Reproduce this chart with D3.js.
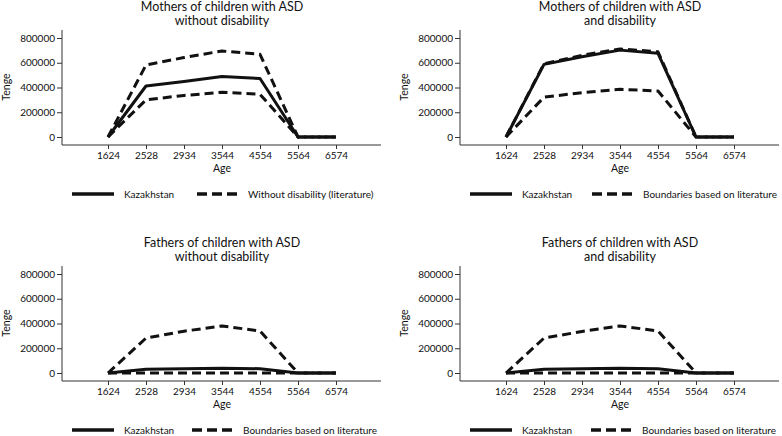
<!DOCTYPE html>
<html>
<head>
<meta charset="utf-8">
<script src="https://cdn.jsdelivr.net/npm/d3@7"></script>
<style>
  body { margin: 0; background: #fff; }
  text { font-family: Lato, "Noto Sans", sans-serif; fill: #111; }
</style>
</head>
<body>
<svg id="chart" width="782" height="436"></svg>
<script>
// age groups (x categories)
const ages = ['1624', '2528', '2934', '3544', '4554', '5564', '6574']
const yTicks = [0, 200000, 400000, 600000, 800000]

// mothers, child without disability
const mNoDisKz = [0, 412000, 448000, 488000, 473000, 0, 0]
const mNoDisHigh = [0, 582000, 642000, 695000, 668000, 0, 0]
const mNoDisLow = [0, 300000, 336000, 361000, 345000, 0, 0]

// mothers, child with disability
const mDisKz = [0, 587000, 648000, 702000, 676000, 0, 0]
const mDisHigh = [0, 592000, 660000, 712000, 688000, 0, 0]
const mDisLow = [0, 322000, 358000, 385000, 372000, 0, 0]

// fathers, child without disability
const fNoDisKz = [0, 30000, 34000, 38000, 35000, 0, 0]
const fNoDisHigh = [0, 282000, 338000, 380000, 340000, 0, 0]
const fNoDisLow = [0, 0, 0, 0, 0, 0, 0]

// fathers, child with disability
const fDisKz = [0, 30000, 34000, 38000, 35000, 0, 0]
const fDisHigh = [0, 282000, 336000, 380000, 340000, 0, 0]
const fDisLow = [0, 0, 0, 0, 0, 0, 0]

const panels = [
    {x: 0, y: 0, title: ['Mothers of children with ASD', 'without disability'],
     kz: mNoDisKz, hi: mNoDisHigh, lo: mNoDisLow, legend2: 'Without disability (literature)', l2x: 197},
    {x: 398, y: 0, title: ['Mothers of children with ASD', 'and disability'],
     kz: mDisKz, hi: mDisHigh, lo: mDisLow, legend2: 'Boundaries based on literature', l2x: 194},
    {x: 0, y: 236, title: ['Fathers of children with ASD', 'without disability'],
     kz: fNoDisKz, hi: fNoDisHigh, lo: fNoDisLow, legend2: 'Boundaries based on literature', l2x: 192},
    {x: 398, y: 236, title: ['Fathers of children with ASD', 'and disability'],
     kz: fDisKz, hi: fDisHigh, lo: fDisLow, legend2: 'Boundaries based on literature', l2x: 193}
]

const svg = d3.select('#chart')

const x = d3.scalePoint().domain(ages).range([108, 336])
const y = d3.scaleLinear().domain([0, 800000]).range([137, 38])
const axisX0 = 62, axisY0 = 145, axisRight = 381

const line = d3.line()
    .x((d, i) => x(ages[i]))
    .y(d => y(d))

const dash = '9,5'

panels.forEach(p => {
    const g = svg.append('g').attr('transform', `translate(${p.x},${p.y})`)

    // title, two lines
    g.selectAll('text.title')
        .data(p.title)
        .join('text')
        .attr('class', 'title')
        .attr('x', 222)
        .attr('y', (d, i) => 11 + i * 14)
        .attr('text-anchor', 'middle')
        .style('font-size', '12.5px')
        .text(d => d)

    // y axis
    const yAxis = d3.axisLeft(y).tickValues(yTicks).tickSize(5).tickPadding(2)
        .tickFormat(d3.format('d'))
    const ya = g.append('g').attr('transform', `translate(${axisX0},0)`).call(yAxis)
    ya.select('.domain').remove()
    ya.append('line').attr('x1', 0).attr('x2', 0).attr('y1', 30).attr('y2', axisY0)
    ya.selectAll('line').attr('stroke', '#333').attr('stroke-width', 1)
    ya.selectAll('text').style('font-size', '10px').style('font-family', 'Lato, sans-serif').attr('fill', '#111')

    // x axis
    const xAxis = d3.axisBottom(x).tickSize(4).tickPadding(3)
    const xa = g.append('g').attr('transform', `translate(0,${axisY0})`).call(xAxis)
    xa.select('.domain').remove()
    xa.append('line').attr('x1', axisX0).attr('x2', axisRight).attr('y1', 0).attr('y2', 0)
    xa.selectAll('line').attr('stroke', '#333').attr('stroke-width', 1)
    xa.selectAll('text').style('font-size', '10px').style('font-family', 'Lato, sans-serif').attr('fill', '#111')

    // axis titles
    g.append('text')
        .attr('x', 222).attr('y', 172)
        .attr('text-anchor', 'middle')
        .style('font-size', '10.5px')
        .text('Age')
    g.append('text')
        .attr('transform', 'translate(10,87) rotate(-90)')
        .attr('text-anchor', 'middle')
        .style('font-size', '10.5px')
        .text('Tenge')

    // series
    const series = [
        {v: p.lo, dashed: true},
        {v: p.hi, dashed: true},
        {v: p.kz, dashed: false}
    ]
    g.selectAll('path.series')
        .data(series)
        .join('path')
        .attr('class', 'series')
        .attr('d', d => line(d.v))
        .attr('fill', 'none')
        .attr('stroke', '#111')
        .attr('stroke-width', 3)
        .attr('stroke-linejoin', 'round')
        .attr('stroke-dasharray', d => d.dashed ? dash : null)

    // legend
    const ly = 194
    g.append('line').attr('x1', 72).attr('x2', 114).attr('y1', ly).attr('y2', ly)
        .attr('stroke', '#111').attr('stroke-width', 3.5)
    g.append('text').attr('x', 124).attr('y', ly + 4).style('font-size', '10px').text('Kazakhstan')
    g.append('line').attr('x1', p.l2x).attr('x2', p.l2x + 40).attr('y1', ly).attr('y2', ly)
        .attr('stroke', '#111').attr('stroke-width', 3.5).attr('stroke-dasharray', '10,5')
    g.append('text').attr('x', p.l2x + 51).attr('y', ly + 4).style('font-size', '10px').text(p.legend2)
})
</script>
</body>
</html>
